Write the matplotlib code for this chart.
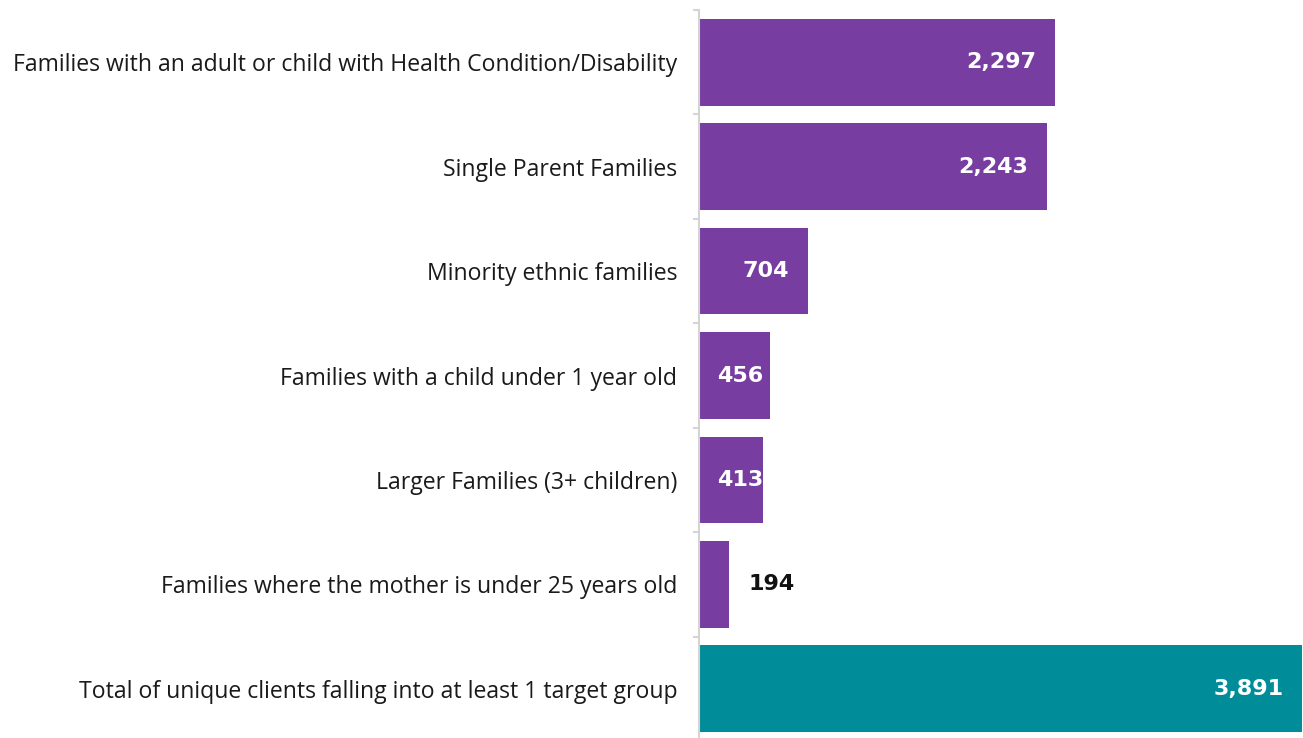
import matplotlib.pyplot as plt
import numpy as np

categories = [
    "Families with an adult or child with Health Condition/Disability",
    "Single Parent Families",
    "Minority ethnic families",
    "Families with a child under 1 year old",
    "Larger Families (3+ children)",
    "Families where the mother is under 25 years old",
    "Total of unique clients falling into at least 1 target group",
]
values = [2297, 2243, 704, 456, 413, 194, 3891]
bar_colors = ["#773DA1"] * 6 + ["#008C99"]

plt.rcParams['font.family'] = ['Open Sans', 'DejaVu Sans']

fig = plt.figure(figsize=(13.03, 7.38), dpi=100)
ax = fig.add_axes([699 / 1303, 1 - 741 / 738, 603 / 1303, 731 / 738])

y = np.arange(len(categories))
ax.barh(y, values, height=0.83, color=bar_colors)
ax.set_ylim(len(categories) - 0.5, -0.5)
ax.set_xlim(0, max(values))

for s in ["top", "right", "bottom"]:
    ax.spines[s].set_visible(False)
ax.spines["left"].set_color("#D4D4D4")
ax.spines["left"].set_linewidth(1.5)

ax.set_xticks([])
ax.set_yticks(y)
ax.set_yticklabels(categories, fontsize=16.6, color="#1a1a1a")
ax.tick_params(axis="y", which="major", length=0, pad=15.5)
ax.set_yticks(np.arange(len(categories) + 1) - 0.5, minor=True)
ax.tick_params(axis="y", which="minor", length=4.5, width=1.5, color="#D4D4D4")

# value labels: inside end for long bars, inside start for short ones, outside for the smallest
lbl = dict(va="center", fontsize=16, fontweight="bold", family="DejaVu Sans",
           textcoords="offset points")
for yi, v in zip(y, values):
    txt = f"{v:,}"
    if v < 300:
        ax.annotate(txt, (v, yi), xytext=(14, 0), ha="left", color="#111111", **lbl)
    elif v < 600:
        ax.annotate(txt, (0, yi), xytext=(13, 0), ha="left", color="white", **lbl)
    else:
        ax.annotate(txt, (v, yi), xytext=(-13.5, 0), ha="right", color="white", **lbl)

fig.savefig("out.png", dpi=100)
